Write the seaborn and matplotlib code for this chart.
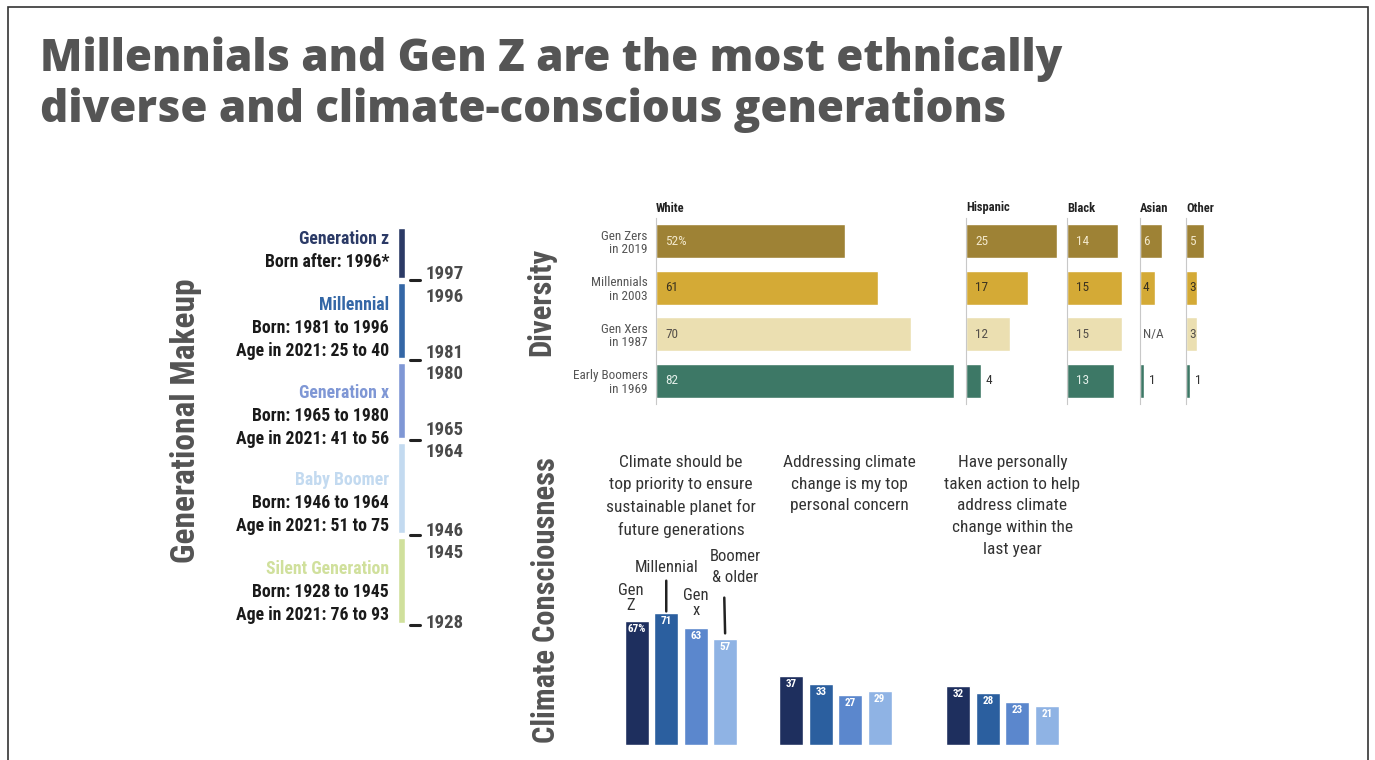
import numpy as np
import pandas as pd
import seaborn as sns
import matplotlib.pyplot as plt
from matplotlib import font_manager as fm
from matplotlib.patches import Rectangle
from matplotlib.transforms import blended_transform_factory

W, H = 1375, 760
PT = 0.72  # points per pixel at dpi 100

# ---- data ----
gen_names = ['Generation z', 'Millennial', 'Generation x', 'Baby Boomer', 'Silent Generation']
gen_start = [1997, 1981, 1965, 1946, 1928]
gen_end = [2007, 1996, 1980, 1964, 1945]
gen_details = [['Born after: 1996*'],
               ['Born: 1981 to 1996', 'Age in 2021: 25 to 40'],
               ['Born: 1965 to 1980', 'Age in 2021: 41 to 56'],
               ['Born: 1946 to 1964', 'Age in 2021: 51 to 75'],
               ['Born: 1928 to 1945', 'Age in 2021: 76 to 93']]
gen_colors = ['#2b3a66', '#3467a6', '#7f97d5', '#c3daf0', '#d0e09c']

div_groups = ['Gen Zers\nin 2019', 'Millennials\nin 2003', 'Gen Xers\nin 1987', 'Early Boomers\nin 1969']
div_races = ['White', 'Hispanic', 'Black', 'Asian', 'Other']
white = [52, 61, 70, 82]
hispanic = [25, 17, 12, 4]
black = [14, 15, 15, 13]
asian = [6, 4, np.nan, 1]
other = [5, 3, 3, 1]
div_colors = ['#9e8235', '#d4aa36', '#ebdfb1', '#3d7866']
div_text = ['#f3e9cc', '#3a3220', '#55504a', '#e3efe9']

climate_questions = ['Climate should be\ntop priority to ensure\nsustainable planet for\nfuture generations',
                     'Addressing climate\nchange is my top\npersonal concern',
                     'Have personally\ntaken action to help\naddress climate\nchange within the\nlast year']
climate_gens = ['Gen\nZ', 'Millennial', 'Gen\nx', 'Boomer\n& older']
priority = [67, 71, 63, 57]
concern = [37, 33, 27, 29]
action = [32, 28, 23, 21]
climate_colors = ['#1e2f5e', '#2b5f9f', '#5b87cd', '#8fb3e4']

# ---- fonts ----
installed = {f.name for f in fm.fontManager.ttflist}
COND = next((f for f in ['Roboto Condensed', 'Liberation Sans Narrow', 'Open Sans Condensed',
                         'Noto Sans Condensed'] if f in installed), 'Liberation Sans')

sns.set_theme(style='white')
plt.rcParams['font.family'] = [COND, 'DejaVu Sans']

fig = plt.figure(figsize=(W / 100, H / 100), dpi=100)
fig.patch.set_facecolor('white')


def px_axes(x0, y0, x1, y1):
    return fig.add_axes([x0 / W, 1 - y1 / H, (x1 - x0) / W, (y1 - y0) / H])


# title
title_kw = dict(fontsize=31.6, fontweight='heavy', color='#555555', ha='left', va='baseline',
                family=['Open Sans', 'DejaVu Sans'])
fig.text(40 / W, 1 - 71 / H, 'Millennials and Gen Z are the most ethnically', **title_kw)
fig.text(40 / W, 1 - 122 / H, 'diverse and climate-conscious generations', **title_kw)

side_kw = dict(fontweight='bold', color='#545454', rotation=90, ha='center', va='center')
fig.text(186 / W, 1 - 421 / H, 'Generational Makeup', fontsize=24, **side_kw)
fig.text(541 / W, 1 - 302 / H, 'Diversity', fontsize=22, **side_kw)
fig.text(546 / W, 1 - 600 / H, 'Climate Consciousness', fontsize=22, **side_kw)

# ---- generational timeline ----
ax_t = px_axes(398, 228, 405, 623)
ax_t.bar([0] * 5, np.subtract(gen_end, gen_start), bottom=gen_start, width=1.0, color=gen_colors)
ax_t.set_xlim(-0.5, 0.5)
ax_t.set_ylim(1928, 2007)
ax_t.axis('off')
trans = blended_transform_factory(ax_t.transAxes, ax_t.transData)

# small hand placement nudges (in years) as in the original slide
block_lift = [3.2, 1.4, -0.2, 1.4, 1.6]
start_lift = [0.8, 1.0, 1.6, 0.5, 0.1]
end_drop = [0, 2.8, 2.2, 1.8, 3.0]
year_kw = dict(transform=trans, va='center', ha='left', fontsize=13.5, fontweight='bold',
               color='#4a4a4a')
for i, name in enumerate(gen_names):
    s, e = gen_start[i], gen_end[i]
    ax_t.plot([1.7, 3.2], [s - 0.4] * 2, transform=trans, clip_on=False, color='#222', lw=2.2)
    ax_t.text(3.9, s + start_lift[i], str(s), **year_kw)
    if i > 0:
        ax_t.text(3.9, e - end_drop[i], str(e), **year_kw)
    lines = [name] + gen_details[i]
    n = len(lines)
    for j, line in enumerate(lines):
        ax_t.annotate(line, xy=(0, s + block_lift[i]), xycoords=trans,
                      xytext=(-9 * PT, (n - 1 - j) * 23 * PT), textcoords='offset points',
                      ha='right', va='center', fontsize=12.8, fontweight='bold',
                      color=gen_colors[i] if j == 0 else '#1a1a1a')

# ---- diversity ----
div_df = pd.DataFrame({'group': div_groups, 'White': white, 'Hispanic': hispanic,
                       'Black': black, 'Asian': asian, 'Other': other})
starts = [656, 966, 1067, 1140, 1186]
limits = [84, 27, 18, 10, 8]
SCALE = 3.64
pads = [9, 9, 9, 3, 3]
for k, race in enumerate(div_races):
    ax = px_axes(starts[k], 217.7, starts[k] + limits[k] * SCALE, 404.3)
    sns.barplot(data=div_df, x=race, y='group', hue='group', palette=div_colors,
                width=0.73, saturation=1, legend=False, ax=ax)
    ax.set_xlim(0, limits[k])
    ax.set_ylim(3.5, -0.5)
    ax.set_xlabel('')
    ax.set_ylabel('')
    ax.set_xticks([])
    for sp in ['top', 'right', 'bottom']:
        ax.spines[sp].set_visible(False)
    ax.spines['left'].set_color('#c8c8c8')
    ax.spines['left'].set_linewidth(0.8)
    if k == 0:
        ax.tick_params(axis='y', length=0, pad=6, labelsize=9.5, labelcolor='#555')
        for t in ax.get_yticklabels():
            t.set_linespacing(1.05)
    else:
        ax.set_yticks([])
    ax.annotate(race, xy=(0, 1), xycoords='axes fraction', xytext=(0, 9.7 * PT),
                textcoords='offset points', ha='left', va='center', fontsize=9,
                fontweight='bold', color='#222')
    for i, v in enumerate(div_df[race]):
        if np.isnan(v):
            ax.text(pads[k] / SCALE, i, 'N/A', va='center', ha='left', fontsize=9.5, color='#555')
            continue
        label = f'{int(v)}%' if (k == 0 and i == 0) else str(int(v))
        if i == 3 and v < 8:
            ax.text(v + 5 / SCALE, i, label, va='center', ha='left', fontsize=9.5, color='#333',
                    clip_on=False)
        else:
            ax.text(pads[k] / SCALE, i, label, va='center', ha='left', fontsize=9.5,
                    color=div_text[i])

# ---- climate consciousness ----
clim_df = pd.DataFrame({'gen': climate_gens, 'priority': priority,
                        'concern': concern, 'action': action})
centers = [681, 835.5, 1002.5]
q_dx = [0, 14, 10]
ann = [dict(dx=-6, dy=8, arrow=None),
       dict(dx=0, dy=38, arrow=(0.5, 2, 2)),
       dict(dx=0, dy=10, arrow=None),
       dict(dx=10, dy=54, arrow=(0.28, 9, 6))]
for g, col in enumerate(['priority', 'concern', 'action']):
    cx = centers[g]
    ax = px_axes(cx - 59, 606, cx + 59, 745)
    sns.barplot(data=clim_df, x='gen', y=col, hue='gen', palette=climate_colors,
                width=0.81, saturation=1, legend=False, ax=ax)
    ax.set_xlim(-0.5, 3.5)
    ax.set_ylim(0, 75)
    ax.axis('off')
    for i, v in enumerate(clim_df[col]):
        ax.annotate(f'{v}%' if (g == 0 and i == 0) else str(v), xy=(i, v),
                    xytext=(0, -8 * PT), textcoords='offset points', ha='center', va='center',
                    color='white', fontweight='bold', fontsize=8)
        if g == 0:
            a = ann[i]
            kw = {}
            if a['arrow']:
                rx, sa, sb = a['arrow']
                kw['arrowprops'] = dict(arrowstyle='-', lw=1.8, color='#222', relpos=(rx, 0),
                                        shrinkA=sa * PT, shrinkB=sb * PT)
            ax.annotate(clim_df['gen'][i], xy=(i, v), xytext=(a['dx'] * PT, a['dy'] * PT),
                        textcoords='offset points', ha='center', va='bottom', fontsize=12,
                        color='#333', linespacing=1.0 if i in (0, 2) else 1.5,
                        annotation_clip=False, **kw)
    ax.annotate(climate_questions[g], xy=(0.5, 1), xycoords='axes fraction',
                xytext=(q_dx[g] * PT, (606 - 455) * PT), textcoords='offset points',
                ha='center', va='top', fontsize=12.5, color='#333', linespacing=1.56,
                annotation_clip=False)

# frame around the slide
fig.patches.append(Rectangle((8 / W, -0.05), 1360 / W, 1.05 - 7 / H, transform=fig.transFigure,
                             fill=False, ec='#333', lw=1.2))

fig.savefig('out.png', dpi=100)
